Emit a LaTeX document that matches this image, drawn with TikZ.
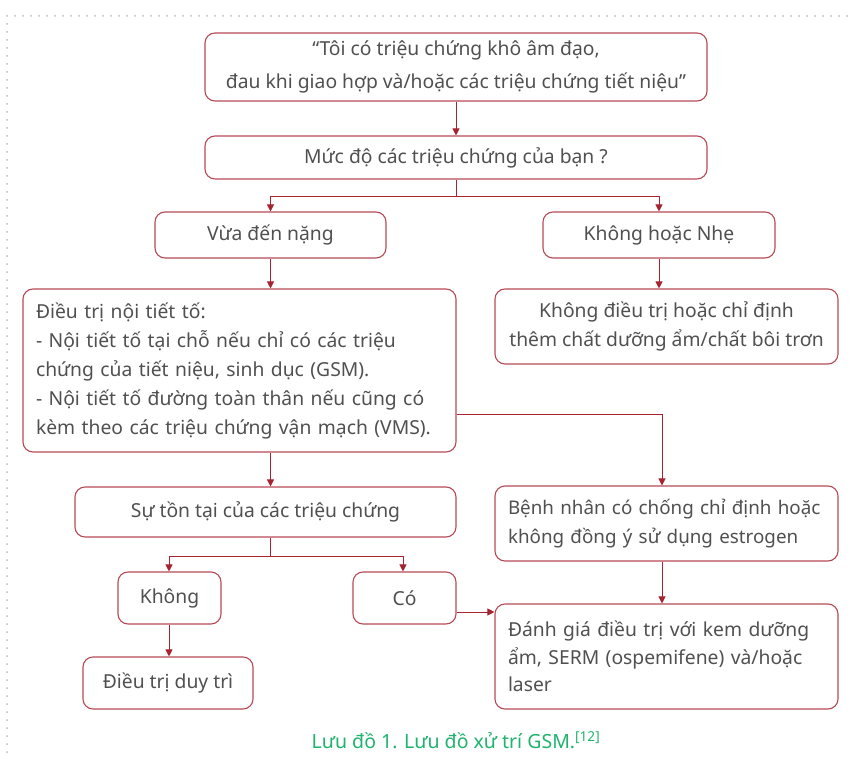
\documentclass[tikz,border=0pt]{standalone}
\usepackage{fontspec}
\setmainfont{Noto Sans}
\usetikzlibrary{arrows.meta,calc}
\definecolor{boxred}{HTML}{B84A55}
\definecolor{linered}{HTML}{A6232F}
\definecolor{txtgray}{HTML}{505050}
\definecolor{capgreen}{HTML}{1FB46E}
\definecolor{dotgray}{HTML}{BDBDBD}
\begin{document}
\begin{tikzpicture}[x=1pt,y=-1pt,
  fbox/.style={draw=boxred,line width=1.1pt,rounded corners=10pt,fill=white,
    text=txtgray,font=\fontsize{19.3}{29}\selectfont,inner sep=0pt},
  arr/.style={draw=linered,line width=1pt,-{Triangle[length=7pt,width=7pt]}},
  ln/.style={draw=linered,line width=1pt}]
\useasboundingbox (0,0) rectangle (853,759);
\draw[dotgray,line width=2pt,line cap=round,dash pattern=on 0pt off 8pt] (7,16) -- (853,16);
\draw[dotgray,line width=2pt,line cap=round,dash pattern=on 0pt off 8pt] (7,24) -- (7,759);

\node[fbox,minimum width=502pt,minimum height=68pt,align=center,font=\fontsize{19.3}{33}\selectfont] (b1) at (456,67)
  {“Tôi có triệu chứng khô âm đạo,\\đau khi giao hợp và/hoặc các triệu chứng tiết niệu”};
\node[fbox,minimum width=502pt,minimum height=43pt] (b2) at (456,157.5) {Mức độ các triệu chứng của bạn ?};
\node[fbox,minimum width=231pt,minimum height=46pt] (b3) at (270.5,235) {Vừa đến nặng};
\node[fbox,minimum width=232pt,minimum height=46pt] (b4) at (659,235) {Không hoặc Nhẹ};
\node[fbox,minimum width=433pt,minimum height=163pt,align=left,text width=407pt] (b5) at (239.5,370.5)
  {Điều trị nội tiết tố:\\- Nội tiết tố tại chỗ nếu chỉ có các triệu\\chứng của tiết niệu, sinh dục (GSM).\\- Nội tiết tố đường toàn thân nếu cũng có\\kèm theo các triệu chứng vận mạch (VMS).};
\node[fbox,minimum width=343pt,minimum height=75pt,align=center,font=\fontsize{19.3}{28.5}\selectfont] (b6) at (666.5,326.5)
  {Không điều trị hoặc chỉ định\\thêm chất dưỡng ẩm/chất bôi trơn};
\node[fbox,minimum width=343pt,minimum height=75pt,align=left,text width=317pt,font=\fontsize{18.8}{28.5}\selectfont] (b7) at (666.5,523.5)
  {Bệnh nhân có chống chỉ định hoặc\\không đồng ý sử dụng estrogen};
\node[fbox,minimum width=381pt,minimum height=50pt] (b8) at (265.5,512) {Sự tồn tại của các triệu chứng};
\node[fbox,minimum width=103pt,minimum height=52pt] (b9) at (169.5,598) {Không};
\node[fbox,minimum width=103pt,minimum height=52pt] (b10) at (404.5,598) {Có};
\node[fbox,minimum width=343pt,minimum height=105pt,align=left,text width=317pt,font=\fontsize{19.3}{27.5}\selectfont] (b11) at (666.5,656.5)
  {Đánh giá điều trị với kem dưỡng\\ẩm, SERM (ospemifene) và/hoặc\\laser};
\node[fbox,minimum width=170pt,minimum height=52pt] (b12) at (168,683) {Điều trị duy trì};

\node[text=capgreen,font=\fontsize{19.5}{22}\selectfont] (cap) at (456,740)
  {Lưu đồ 1. Lưu đồ xử trí GSM.\textsuperscript{[12]}};

\draw[arr] (b1.south) -- (b2.north);
\draw[ln] (b2.south) -- ++(0,17) coordinate (j1);
\draw[arr] (j1) -| (b3.north);
\draw[arr] (j1) -| (b4.north);
\draw[arr] (b3.south) -- (b5.north -| b3.south);
\draw[arr] (b4.south) -- (b6.north -| b4.south);
\draw[arr] ([yshift=-43.5pt]b5.east) -| ([xshift=-4.5pt]b7.north);
\draw[arr] (b5.south -| b3.south) -- (b8.north -| b3.south);
\draw[ln] (b8.south -| b3.south) -- ++(0,19) coordinate (j2);
\draw[arr] (j2) -| ([xshift=-0.5pt]b9.north);
\draw[arr] (j2) -| ([xshift=-1.5pt]b10.north);
\draw[arr] ([xshift=-0.5pt]b9.south) -- ([xshift=-0.5pt]b9.south |- b12.north);
\draw[arr] ([yshift=-14pt]b10.east) -- ([yshift=-14pt]b10.east -| b11.west);
\draw[arr] ([xshift=-4.5pt]b7.south) -- ([xshift=-4.5pt]b7.south |- b11.north);
\end{tikzpicture}
\end{document}
